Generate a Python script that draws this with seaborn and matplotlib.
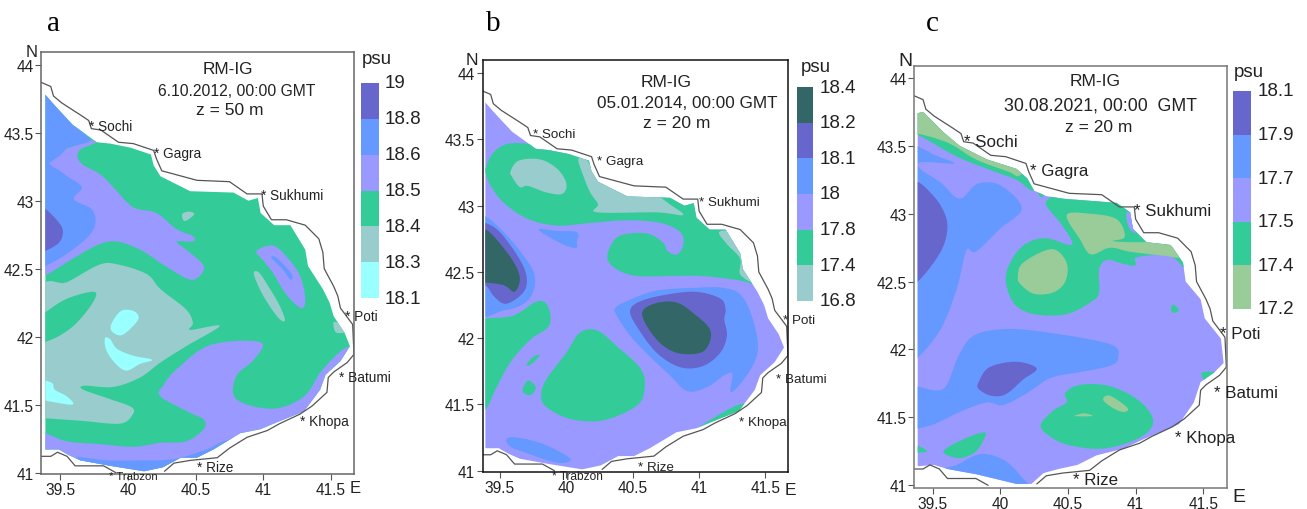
import numpy as np
import matplotlib
matplotlib.use("Agg")
import matplotlib.pyplot as plt
from matplotlib.colors import ListedColormap
from matplotlib.patches import Polygon
import seaborn as sns

W, H = 1307, 510
DARK, PURPLE, BLUE, PERI, GREEN, GREY, CYAN, SAGE = ("#336666", "#6666CC", "#6699FF", "#9999FF",
                                                     "#33CC99", "#99CCCC", "#99FFFF", "#99CC99")

# ---------- shared geography (lon, lat) ----------
coast_north = [(39.36,43.87),(39.43,43.84),(39.45,43.77),(39.51,43.72),(39.65,43.63),(39.71,43.59),(39.73,43.53),
    (39.80,43.52),(39.93,43.43),(40.04,43.42),(40.19,43.37),(40.21,43.31),(40.25,43.22),(40.51,43.15),(40.75,43.14),
    (40.88,43.05),(40.99,43.05),(41.00,42.96),(41.06,42.86),(41.17,42.86),(41.31,42.82),(41.41,42.72),(41.44,42.62),
    (41.45,42.50),(41.52,42.37),(41.55,42.30),(41.57,42.21),(41.66,42.09),(41.67,41.87),(41.62,41.81),(41.52,41.74),
    (41.48,41.70),(41.47,41.59),(41.36,41.49),(41.27,41.43),(41.12,41.36),(41.03,41.31),(40.88,41.26),(40.75,41.18),
    (40.66,41.11),(40.46,41.09),(40.34,41.07),(40.27,41.01)]
coast_south = [(39.36,41.12),(39.43,41.12),(39.48,41.15),(39.55,41.12),(39.61,41.05),(39.82,41.05),(39.91,41.00)]
sea_ab = [(39.39,43.78),(39.46,43.70),(39.59,43.56),(39.77,43.43),(39.87,43.42),(40.02,43.39),(40.17,43.34),(40.19,43.26),
    (40.24,43.18),(40.46,43.07),(40.78,43.06),(40.89,43.00),(40.96,43.02),(40.98,42.91),(41.08,42.82),(41.20,42.82),
    (41.31,42.64),(41.33,42.52),(41.44,42.35),(41.49,42.25),(41.52,42.15),(41.60,42.03),(41.64,41.93),(41.57,41.82),
    (41.46,41.72),(41.42,41.61),(41.30,41.45),(41.10,41.37),(40.98,41.32),(40.83,41.29),(40.63,41.17),(40.51,41.11),
    (40.39,41.11),(40.26,41.04),(40.12,41.01),(39.87,41.05),(39.65,41.09),(39.56,41.13),(39.49,41.17),(39.39,41.17)]
sea_c = [(39.39,43.74),(39.43,43.75),(39.58,43.60),(39.70,43.50),(39.90,43.40),(40.12,43.33),(40.20,43.26),(40.25,43.17),
    (40.34,43.13),(40.47,43.11),(40.86,43.08),(40.96,43.01),(40.98,42.89),(41.08,42.79),(41.26,42.77),(41.35,42.64),
    (41.37,42.50),(41.48,42.37),(41.51,42.23),(41.63,42.08),(41.65,41.90),(41.58,41.83),(41.48,41.76),(41.43,41.61),
    (41.32,41.45),(41.06,41.34),(40.91,41.27),(40.71,41.22),(40.57,41.15),(40.43,41.12),(40.32,41.09),(40.23,41.01),
    (40.12,41.01),(39.83,41.08),(39.61,41.12),(39.51,41.15),(39.39,41.14)]

# ---------- panel a salinity zones ----------
a_peri_n = [(39.35,43.40),(39.56,43.39),(39.68,43.44),(39.77,43.43),(39.64,43.37),(39.65,43.28),(39.80,43.19),(39.91,43.08),
    (40.04,42.95),(40.21,42.91),(40.36,42.79),(40.48,42.74),(40.48,42.70),(40.36,42.70),(40.43,42.64),(40.56,42.52),
    (40.51,42.43),(40.43,42.43),(40.26,42.53),(40.09,42.64),(39.92,42.70),(39.79,42.68),(39.62,42.59),(39.39,42.45),(39.35,42.45)]
a_blue_nw = [(39.30,43.85),(39.65,43.52),(39.72,43.44),(39.56,43.39),(39.48,43.32),(39.35,43.30)]
a_blue_w = [(39.35,43.24),(39.46,43.24),(39.55,43.18),(39.66,43.10),(39.60,43.01),(39.73,42.94),(39.76,42.84),(39.71,42.74),
    (39.55,42.61),(39.39,42.52),(39.35,42.51)]
a_purple_w = [(39.35,42.94),(39.39,42.94),(39.49,42.84),(39.52,42.77),(39.49,42.69),(39.39,42.63),(39.35,42.62)]
a_grey_main = [(39.35,42.32),(39.55,42.40),(39.79,42.53),(39.93,42.53),(40.14,42.46),(40.24,42.35),(40.43,42.20),(40.48,42.10),
    (40.46,42.05),(40.68,42.08),(40.43,41.93),(40.24,41.81),(40.09,41.70),(39.89,41.63),(39.68,41.64),(39.67,41.61),
    (39.87,41.54),(40.03,41.48),(40.03,41.42),(39.94,41.36),(39.67,41.38),(39.39,41.40),(39.35,41.40)]
a_green_isle = [(39.35,42.15),(39.39,42.18),(39.55,42.28),(39.75,42.33),(39.74,42.25),(39.62,42.10),(39.50,42.01),(39.39,41.96),(39.35,41.94)]
a_cyan_1 = [(39.88,42.10),(39.95,42.19),(40.04,42.19),(40.08,42.14),(40.03,42.07),(39.95,42.01),(39.88,42.04)]
a_cyan_2 = [(39.83,41.99),(39.87,41.98),(39.92,41.91),(40.04,41.86),(40.18,41.83),(40.09,41.80),(39.99,41.75),(39.91,41.80),(39.84,41.90)]
a_cyan_3 = [(39.35,41.67),(39.44,41.66),(39.46,41.61),(39.55,41.56),(39.59,41.50),(39.39,41.53),(39.35,41.54)]
a_grey_n = [(40.40,42.90),(40.45,42.92),(40.49,42.90),(40.42,42.85)]
a_peri_s = [(39.35,41.29),(39.39,41.29),(39.55,41.23),(39.79,41.21),(40.04,41.19),(40.24,41.22),(40.43,41.23),(40.56,41.32),
    (40.56,41.39),(40.46,41.44),(40.24,41.56),(40.26,41.64),(40.36,41.76),(40.61,41.94),(40.98,41.96),(40.93,41.83),
    (40.80,41.71),(40.80,41.54),(41.07,41.47),(41.30,41.56),(41.44,41.76),(41.64,41.93),(41.76,41.78),(41.52,41.29),
    (40.78,41.00),(39.35,41.00)]
a_blue_s = [(39.62,41.11),(39.84,41.09),(40.09,41.09),(40.34,41.10),(40.58,41.17),(40.68,41.22),(40.83,41.27),(41.03,41.33),
    (41.12,41.34),(41.12,41.00),(39.62,41.00)]
a_grey_poti = [(41.52,42.07),(41.53,42.11),(41.63,42.05),(41.60,42.03),(41.54,42.03)]
a_peri_e = [(40.95,42.63),(41.07,42.67),(41.17,42.59),(41.27,42.45),(41.31,42.28),(41.28,42.21),(41.17,42.31),(41.07,42.47),(41.00,42.56)]
a_blue_e = [(41.06,42.58),(41.10,42.58),(41.21,42.46),(41.20,42.42),(41.14,42.50)]
a_grey_e = [(40.93,42.46),(40.97,42.47),(41.05,42.35),(41.12,42.23),(41.16,42.12),(41.11,42.14),(41.00,42.30)]

# ---------- panel b salinity zones ----------
b_green_n = [(39.39,43.28),(39.45,43.40),(39.57,43.47),(39.78,43.46),(39.90,43.43),(40.09,43.39),(40.31,43.43),(40.81,43.20),
    (41.06,43.07),(41.44,42.75),(41.56,42.35),(41.51,42.35),(41.37,42.42),(41.21,42.45),(41.01,42.47),(40.81,42.47),
    (40.53,42.47),(40.38,42.52),(40.31,42.60),(40.34,42.71),(40.42,42.78),(40.61,42.79),(40.73,42.72),(40.76,42.66),
    (40.83,42.63),(40.88,42.70),(40.86,42.80),(40.71,42.87),(40.46,42.89),(40.18,42.87),(39.93,42.85),(39.71,42.90),
    (39.53,43.02),(39.43,43.15),(39.39,43.25)]
b_grey_nw = [(39.58,43.26),(39.64,43.34),(39.80,43.35),(39.93,43.28),(40.00,43.17),(39.97,43.09),(39.85,43.10),(39.71,43.15),(39.65,43.14),(39.59,43.22)]
b_grey_ne = [(40.09,43.35),(40.15,43.35),(40.25,43.20),(40.45,43.15),(40.63,43.11),(40.78,43.01),(40.88,42.93),(40.68,42.95),
    (40.23,42.95),(40.24,43.01),(40.18,43.10),(40.13,43.22)]
b_grey_e = [(41.15,42.80),(41.25,42.81),(41.27,42.76),(41.43,42.57),(41.43,42.42),(41.31,42.48),(41.31,42.60),(41.21,42.71)]
b_green_nw = [(39.59,43.64),(39.64,43.60),(39.60,43.58)]
b_blue_w = [(39.30,42.92),(39.39,42.92),(39.53,42.80),(39.68,42.62),(39.76,42.48),(39.75,42.35),(39.68,42.26),(39.53,42.21),(39.30,42.21)]
b_purple_w = [(39.30,42.87),(39.39,42.87),(39.50,42.80),(39.64,42.61),(39.70,42.47),(39.68,42.35),(39.55,42.26),(39.46,42.31),(39.39,42.40),(39.30,42.40)]
b_dark_w = [(39.30,42.82),(39.39,42.82),(39.47,42.75),(39.60,42.58),(39.65,42.45),(39.61,42.35),(39.53,42.40),(39.39,42.42),(39.30,42.42)]
b_blue_c = [(40.37,42.23),(40.48,42.29),(40.68,42.36),(40.96,42.38),(41.19,42.38),(41.33,42.31),(41.42,42.09),(41.44,41.89),
    (41.36,41.72),(41.24,41.59),(41.25,41.73),(41.19,41.72),(41.06,41.63),(40.91,41.60),(40.78,41.72),(40.61,41.88),(40.48,42.02),(40.38,42.17)]
b_purple_c = [(40.48,42.21),(40.56,42.28),(40.76,42.33),(40.98,42.35),(41.16,42.30),(41.20,42.22),(41.19,42.14),(41.21,42.02),
    (41.16,41.89),(41.03,41.79),(40.86,41.78),(40.68,41.89),(40.53,42.09)]
b_dark_c = [(40.57,42.18),(40.66,42.26),(40.83,42.27),(40.98,42.17),(41.08,42.07),(41.08,41.97),(41.01,41.89),(40.83,41.89),(40.68,41.99)]
b_blue_n = [(39.79,42.82),(39.93,42.81),(40.08,42.80),(40.08,42.73),(40.07,42.68),(39.95,42.72)]
b_green_sw = [(39.30,42.14),(39.39,42.15),(39.60,42.17),(39.76,42.27),(39.84,42.27),(39.88,42.18),(39.86,42.08),(39.73,41.99),
    (39.58,41.82),(39.47,41.62),(39.39,41.46),(39.30,41.45)]
b_green_c = [(39.81,41.57),(39.85,41.69),(40.00,41.89),(40.10,42.04),(40.23,42.06),(40.38,41.94),(40.56,41.77),(40.59,41.62),
    (40.53,41.49),(40.28,41.38),(40.03,41.39),(39.85,41.48)]
b_green_dot_1 = [(39.67,41.60),(39.71,41.68),(39.77,41.63),(39.73,41.57)]
b_green_dot_2 = [(39.70,41.80),(39.75,41.86),(39.80,41.87),(39.73,41.80)]
b_blue_s = [(39.55,41.24),(39.63,41.25),(39.83,41.20),(40.03,41.09),(39.93,41.06),(39.68,41.14),(39.58,41.18)]
b_green_s = [(39.40,41.16),(39.50,41.16),(39.60,41.07),(39.50,41.10)]
b_green_se = [(41.00,41.33),(41.30,41.50),(41.34,41.44),(41.00,41.29)]

# ---------- panel c salinity zones ----------
c_green_band = [(39.30,43.58),(39.39,43.58),(39.68,43.42),(39.93,43.32),(40.12,43.25),(40.25,43.17),(40.27,43.36),(39.83,43.65),(39.30,43.85)]
c_sage_band = [(39.30,43.59),(39.39,43.59),(39.62,43.52),(39.82,43.40),(40.06,43.31),(40.14,43.28),(40.20,43.40),(39.83,43.65),(39.30,43.85)]
c_blue_w = [(39.30,43.50),(39.38,43.50),(39.52,43.43),(39.66,43.37),(39.42,43.38),(39.41,43.33),(39.56,43.23),(39.70,43.11),(39.83,43.22),
    (40.00,43.21),(40.16,43.04),(40.00,42.89),(39.82,42.72),(39.75,42.73),(39.68,42.45),(39.56,42.15),(39.39,41.94),(39.30,41.92)]
c_purple_w = [(39.30,43.24),(39.38,43.24),(39.46,43.18),(39.56,43.06),(39.61,42.91),(39.56,42.72),(39.39,42.50),(39.30,42.50)]
c_blue_sw = [(39.30,41.73),(39.38,41.73),(39.58,41.71),(39.69,41.95),(39.80,42.10),(40.02,42.15),(40.32,42.13),(40.81,42.04),(40.87,41.94),
    (40.81,41.88),(40.57,41.83),(40.37,41.79),(40.20,41.68),(40.02,41.59),(39.90,41.61),(39.70,41.54),(39.48,41.44),(39.30,41.44)]
c_purple_s = [(39.84,41.76),(39.92,41.87),(40.12,41.91),(40.27,41.86),(40.17,41.78),(40.04,41.67),(39.93,41.66),(39.84,41.71)]
c_blue_s = [(39.68,41.15),(39.85,41.23),(40.02,41.19),(40.15,41.07),(40.17,40.97),(39.58,40.97),(39.58,41.11)]
c_green_c = [(40.04,42.52),(40.09,42.67),(40.19,42.78),(40.34,42.82),(40.53,42.77),(40.46,42.91),(40.34,43.06),(40.36,43.11),(40.42,43.13),
    (40.81,43.14),(41.06,42.91),(41.35,42.69),(41.37,42.59),(41.25,42.69),(41.01,42.68),(41.00,42.62),(40.91,42.63),(40.79,42.66),
    (40.73,42.59),(40.73,42.42),(40.67,42.35),(40.49,42.26),(40.25,42.26),(40.10,42.34)]
c_peri_sukhumi = [(40.93,43.00),(40.96,43.00),(41.00,42.86),(40.95,42.90)]
c_sage_ne = [(40.49,42.99),(40.66,43.00),(40.86,42.96),(40.92,42.83),(40.83,42.80),(40.96,42.79),(41.16,42.79),(41.26,42.77),(41.33,42.68),
    (41.21,42.69),(40.96,42.72),(40.81,42.75),(40.67,42.70),(40.59,42.81)]
c_sage_isle = [(40.13,42.54),(40.17,42.64),(40.38,42.74),(40.49,42.64),(40.48,42.50),(40.39,42.42),(40.25,42.41),(40.15,42.48)]
c_green_s = [(40.30,41.45),(40.39,41.55),(40.49,41.61),(40.48,41.68),(40.59,41.74),(40.81,41.73),(41.03,41.62),(41.13,41.47),(41.03,41.35),
    (40.76,41.27),(40.49,41.30),(40.34,41.38)]
c_sage_s1 = [(40.76,41.63),(40.81,41.66),(40.94,41.57),(40.91,41.54),(40.83,41.57)]
c_sage_s2 = [(40.55,41.51),(40.62,41.53),(40.68,41.51)]
c_green_sw = [(39.58,41.25),(39.73,41.34),(39.88,41.39),(39.88,41.34),(39.81,41.24),(39.69,41.20)]
c_green_w = [(39.30,41.29),(39.39,41.29),(39.46,41.25),(39.39,41.24),(39.30,41.24)]
c_green_dot = [(41.26,42.30),(41.28,42.33),(41.32,42.29),(41.28,42.27)]
c_green_batumi = [(41.49,41.83),(41.59,41.83),(41.55,41.77),(41.51,41.77)]
c_green_n = [(40.28,43.16),(40.33,43.15),(40.30,43.12)]

# ---------- labels ----------
x_ticks = [39.5, 40, 40.5, 41, 41.5]
x_tick_labels = ["39.5", "40", "40.5", "41", "41.5"]
y_ticks = [41, 41.5, 42, 42.5, 43, 43.5, 44]
y_tick_labels = ["41", "41.5", "42", "42.5", "43", "43.5", "44"]
a_titles = ["RM-IG", "6.10.2012, 00:00 GMT", "z = 50 m"]
b_titles = ["RM-IG", "05.01.2014, 00:00 GMT", "z = 20 m"]
c_titles = ["RM-IG", "30.08.2021, 00:00  GMT", "z = 20 m"]
a_levels = ["19", "18.8", "18.6", "18.5", "18.4", "18.3", "18.1"]
b_levels = ["18.4", "18.2", "18.1", "18", "17.8", "17.4", "16.8"]
c_levels = ["18.1", "17.9", "17.7", "17.5", "17.4", "17.2"]
cities = ["* Sochi", "* Gagra", "* Sukhumi", "* Poti", "* Batumi", "* Khopa", "* Rize", "* Trabzon"]
a_city_pos = [(39.71,43.55),(40.19,43.35),(40.98,43.04),(41.60,42.15),(41.56,41.70),(41.27,41.38),(40.51,41.04),(39.86,40.975)]
b_city_pos = [(39.75,43.54),(40.23,43.34),(41.00,43.03),(41.63,42.14),(41.58,41.69),(41.30,41.37),(40.54,41.03),(39.89,40.96)]
c_city_pos = [(39.73,43.53),(40.22,43.32),(40.99,43.02),(41.62,42.12),(41.58,41.68),(41.29,41.35),(40.54,41.04)]

PANELS = [
    dict(letter="a", box=(41.3, 354, 52.7, 475), xlim=(39.36, 41.67), ylim=(40.99, 44.096), sea=sea_ab, base=GREEN,
         layers=[(PERI,a_peri_n),(BLUE,a_blue_nw),(BLUE,a_blue_w),(PURPLE,a_purple_w),(GREY,a_grey_main),(GREEN,a_green_isle),
                 (CYAN,a_cyan_1),(CYAN,a_cyan_2),(CYAN,a_cyan_3),(GREY,a_grey_n),(PERI,a_peri_s),(BLUE,a_blue_s),(GREY,a_grey_poti),
                 (PERI,a_peri_e),(BLUE,a_blue_e),(GREY,a_grey_e)],
         titles=a_titles, title_pos=[(40.74,43.97),(40.80,43.81),(40.75,43.67)], title_size=[12.4,11.3,12.5],
         cities=a_city_pos, city_size=9.8, trabzon=8.2, spine="#666666", letter_x=54, n=(39.29,44.10), e=(41.68,40.89), ne_size=12,
         colors=[PURPLE,BLUE,PERI,GREEN,GREY,CYAN], levels=a_levels, cbar=(361.3,379,84,299), lab_x=385, psu=(362,60)),
    dict(letter="b", box=(482.7, 788, 61, 473), xlim=(39.37, 41.67), ylim=(40.99, 44.10), sea=sea_ab, base=PERI,
         layers=[(GREEN,b_green_n),(GREY,b_grey_nw),(GREY,b_grey_ne),(GREY,b_grey_e),(GREEN,b_green_nw),(BLUE,b_blue_w),(PURPLE,b_purple_w),
                 (DARK,b_dark_w),(BLUE,b_blue_c),(PURPLE,b_purple_c),(DARK,b_dark_c),(BLUE,b_blue_n),(GREEN,b_green_sw),(GREEN,b_green_c),
                 (GREEN,b_green_dot_1),(GREEN,b_green_dot_2),(BLUE,b_blue_s),(GREEN,b_green_s),(GREEN,b_green_se)],
         titles=b_titles, title_pos=[(40.75,43.94),(40.91,43.78),(40.83,43.63)], title_size=[12.5,12.3,12.5],
         cities=b_city_pos, city_size=9.6, trabzon=8.6, spine="#111111", letter_x=493, n=(39.29,44.10), e=(41.69,40.86), ne_size=12.5,
         colors=[DARK,PURPLE,BLUE,PERI,GREEN,GREY], levels=b_levels, cbar=(796.7,813.3,88.3,301.7), lab_x=820, psu=(800.7,68)),
    dict(letter="c", box=(914.3, 1227, 66.7, 489), xlim=(39.365, 41.675), ylim=(40.98, 44.09), sea=sea_c, base=PERI,
         layers=[(GREEN,c_green_band),(SAGE,c_sage_band),(BLUE,c_blue_w),(PURPLE,c_purple_w),(BLUE,c_blue_sw),(PURPLE,c_purple_s),(BLUE,c_blue_s),
                 (GREEN,c_green_c),(PERI,c_peri_sukhumi),(SAGE,c_sage_ne),(SAGE,c_sage_isle),(GREEN,c_green_s),(SAGE,c_sage_s1),(SAGE,c_sage_s2),
                 (GREEN,c_green_sw),(GREEN,c_green_w),(GREEN,c_green_dot),(GREEN,c_green_batumi),(GREEN,c_green_n)],
         titles=c_titles, title_pos=[(40.70,43.98),(40.74,43.80),(40.73,43.64)], title_size=[12.5,12.8,12.5],
         cities=c_city_pos, city_size=12.2, trabzon=8, spine="#777777", letter_x=932, n=(39.30,44.13), e=(41.76,40.92), ne_size=14,
         colors=[PURPLE,BLUE,PERI,GREEN,SAGE], levels=c_levels, cbar=(1233,1251.3,92,310), lab_x=1258, psu=(1233.7,73)),
]

sns.set_theme(style="white")
plt.rcParams["font.family"] = ["Liberation Sans", "DejaVu Sans"]
TXT = "#222222"


def smooth(pts, samples=6):
    p = np.asarray(pts, float)
    p0, p1, p2, p3 = np.roll(p, 1, axis=0), p, np.roll(p, -1, axis=0), np.roll(p, -2, axis=0)
    out = []
    for t in np.linspace(0, 1, samples, endpoint=False):
        out.append(0.5 * (2 * p1 + (p2 - p0) * t + (2 * p0 - 5 * p1 + 4 * p2 - p3) * t ** 2
                          + (3 * p1 - p0 - 3 * p2 + p3) * t ** 3))
    return np.stack(out, axis=1).reshape(-1, 2)


def px_axes(fig, x0, x1, y0, y1):
    return fig.add_axes([x0 / W, 1 - y1 / H, (x1 - x0) / W, (y1 - y0) / H])


fig = plt.figure(figsize=(W / 100, H / 100), dpi=100, facecolor="white")

for p in PANELS:
    ax = px_axes(fig, *p["box"])
    sea = Polygon(p["sea"], closed=True, transform=ax.transData, facecolor=p["base"], edgecolor="none", zorder=1)
    ax.add_patch(sea)
    for i, (color, poly) in enumerate(p["layers"]):
        xy = smooth(poly)
        for art in ax.fill(xy[:, 0], xy[:, 1], color=color, lw=0, zorder=2 + i * 0.01):
            art.set_clip_path(sea)
    for line in (coast_north, coast_south):
        lon, lat = zip(*line)
        sns.lineplot(x=list(lon), y=list(lat), sort=False, estimator=None, color="#555555", lw=0.9, ax=ax, zorder=3, legend=False)
    ax.set(xlim=p["xlim"], ylim=p["ylim"], xlabel="", ylabel="")
    ax.set_xticks(x_ticks, x_tick_labels)
    ax.set_yticks(y_ticks, y_tick_labels)
    ax.tick_params(axis="both", length=4, width=0.8, color="#555555", labelsize=11.2, labelcolor=TXT, pad=1.5,
                   left=True, bottom=True)
    for s in ax.spines.values():
        s.set_color(p["spine"])
        s.set_linewidth(1.1)
        s.set_zorder(6)
    for text, (tx, ty), size in zip(p["titles"], p["title_pos"], p["title_size"]):
        ax.text(tx, ty, text, ha="center", va="center", fontsize=size, color=TXT, zorder=7)
    for name, (tx, ty) in zip(cities, p["cities"]):
        size = p["trabzon"] if "Trabzon" in name else p["city_size"]
        ax.text(tx, ty, name, ha="left", va="center", fontsize=size, color=TXT, zorder=7, clip_on=False)
    ax.text(*p["n"], "N", ha="center", va="center", fontsize=p["ne_size"], color=TXT, clip_on=False)
    ax.text(*p["e"], "E", ha="center", va="center", fontsize=p["ne_size"], color=TXT, clip_on=False)
    fig.text(p["letter_x"] / W, 1 - 31 / H, p["letter"], family="Liberation Serif", fontsize=21,
             color="black", ha="center", va="baseline")

    cax = px_axes(fig, *p["cbar"])
    n = len(p["colors"])
    sns.heatmap(np.arange(n).reshape(-1, 1), cmap=ListedColormap(p["colors"]), cbar=False, ax=cax,
                xticklabels=False, yticklabels=False, linewidths=0)
    for i, level in enumerate(p["levels"]):
        fig.text(p["lab_x"] / W, 1 - (p["cbar"][2] + (p["cbar"][3] - p["cbar"][2]) * i / n) / H, level,
                 ha="left", va="center", fontsize=13.5, color=TXT)
    fig.text(p["psu"][0] / W, 1 - p["psu"][1] / H, "psu", ha="left", va="center", fontsize=13.4, color=TXT)

fig.savefig("out.png", dpi=100)
